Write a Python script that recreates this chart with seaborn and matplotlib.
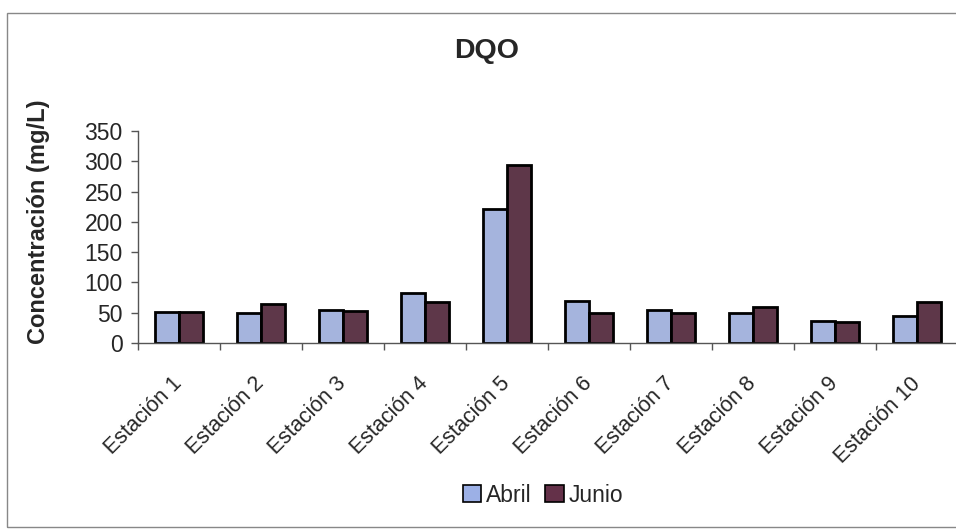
import matplotlib
matplotlib.use("Agg")
import matplotlib.pyplot as plt
from matplotlib.patches import Patch, Rectangle
from matplotlib.ticker import FixedLocator, NullFormatter
import pandas as pd
import seaborn as sns

# DQO concentration per sampling station, April and June campaigns
estaciones = ["Estación 1", "Estación 2", "Estación 3", "Estación 4", "Estación 5",
              "Estación 6", "Estación 7", "Estación 8", "Estación 9", "Estación 10"]
abril = [52, 50, 55, 82, 222, 70, 54, 50, 36, 44]
junio = [52, 64, 53, 67, 294, 50, 49, 60, 34, 68]
meses = ["Abril", "Junio"]
colores = ["#9cb0e6", "#643149"]
y_ticks = [0, 50, 100, 150, 200, 250, 300, 350]

df = pd.DataFrame({
    "Estación": estaciones * 2,
    "DQO": abril + junio,
    "Mes": [meses[0]] * len(abril) + [meses[1]] * len(junio),
})

sns.set_theme(style="white")
plt.rcParams["font.family"] = ["Liberation Sans", "DejaVu Sans"]

fig = plt.figure(figsize=(9.56, 5.29), dpi=100)
fig.patch.set_facecolor("white")

# outer chart frame
fig.patches.append(Rectangle((7 / 956, 2 / 529), 1.2, 1 - 15 / 529,
                             transform=fig.transFigure, fill=False,
                             edgecolor="#888888", linewidth=1.0))

ax = fig.add_axes([138 / 956, 1 - 343 / 529, 820 / 956, 212 / 529])
sns.barplot(data=df, x="Estación", y="DQO", hue="Mes", palette=colores,
            width=0.585, gap=0, edgecolor="black", linewidth=2.0,
            legend=False, ax=ax)

ax.set_ylim(0, 350)
ax.set_xlim(-0.5, len(estaciones) - 0.5)
ax.set_yticks(y_ticks)
ax.tick_params(axis="y", labelsize=16.5, length=5, width=1, color="#555555",
               direction="out", left=True, pad=6)
ax.set_xticks(range(len(estaciones)))
ax.set_xticklabels(estaciones, rotation=45, ha="right", va="center",
                   rotation_mode="anchor", fontsize=15.5)
ax.tick_params(axis="x", which="major", length=0, pad=27)
ax.xaxis.set_minor_locator(FixedLocator([i - 0.5 for i in range(len(estaciones) + 1)]))
ax.xaxis.set_minor_formatter(NullFormatter())
ax.tick_params(axis="x", which="minor", length=5, width=1, color="#555555",
               direction="out", bottom=True)

for side in ["top", "right"]:
    ax.spines[side].set_visible(False)
for side in ["left", "bottom"]:
    ax.spines[side].set_color("#555555")
    ax.spines[side].set_linewidth(1.0)

ax.set_xlabel("")
ax.set_ylabel("Concentración (mg/L)", fontsize=17, fontweight="bold")
ax.yaxis.set_label_coords(-0.107, 0.57)

fig.text(487 / 956, 1 - 51 / 529, "DQO", ha="center", va="center",
         fontsize=20.5, fontweight="bold")

handles = [Patch(facecolor=c, edgecolor="black", linewidth=1.2) for c in colores]
fig.legend(handles, meses, loc="center", bbox_to_anchor=(543 / 956, 1 - 495 / 529),
           ncol=2, frameon=False, fontsize=16.5, handlelength=0.8, handleheight=0.8,
           handletextpad=0.2, columnspacing=0.6, borderpad=0)

fig.savefig("out.png", dpi=100, facecolor="white")
